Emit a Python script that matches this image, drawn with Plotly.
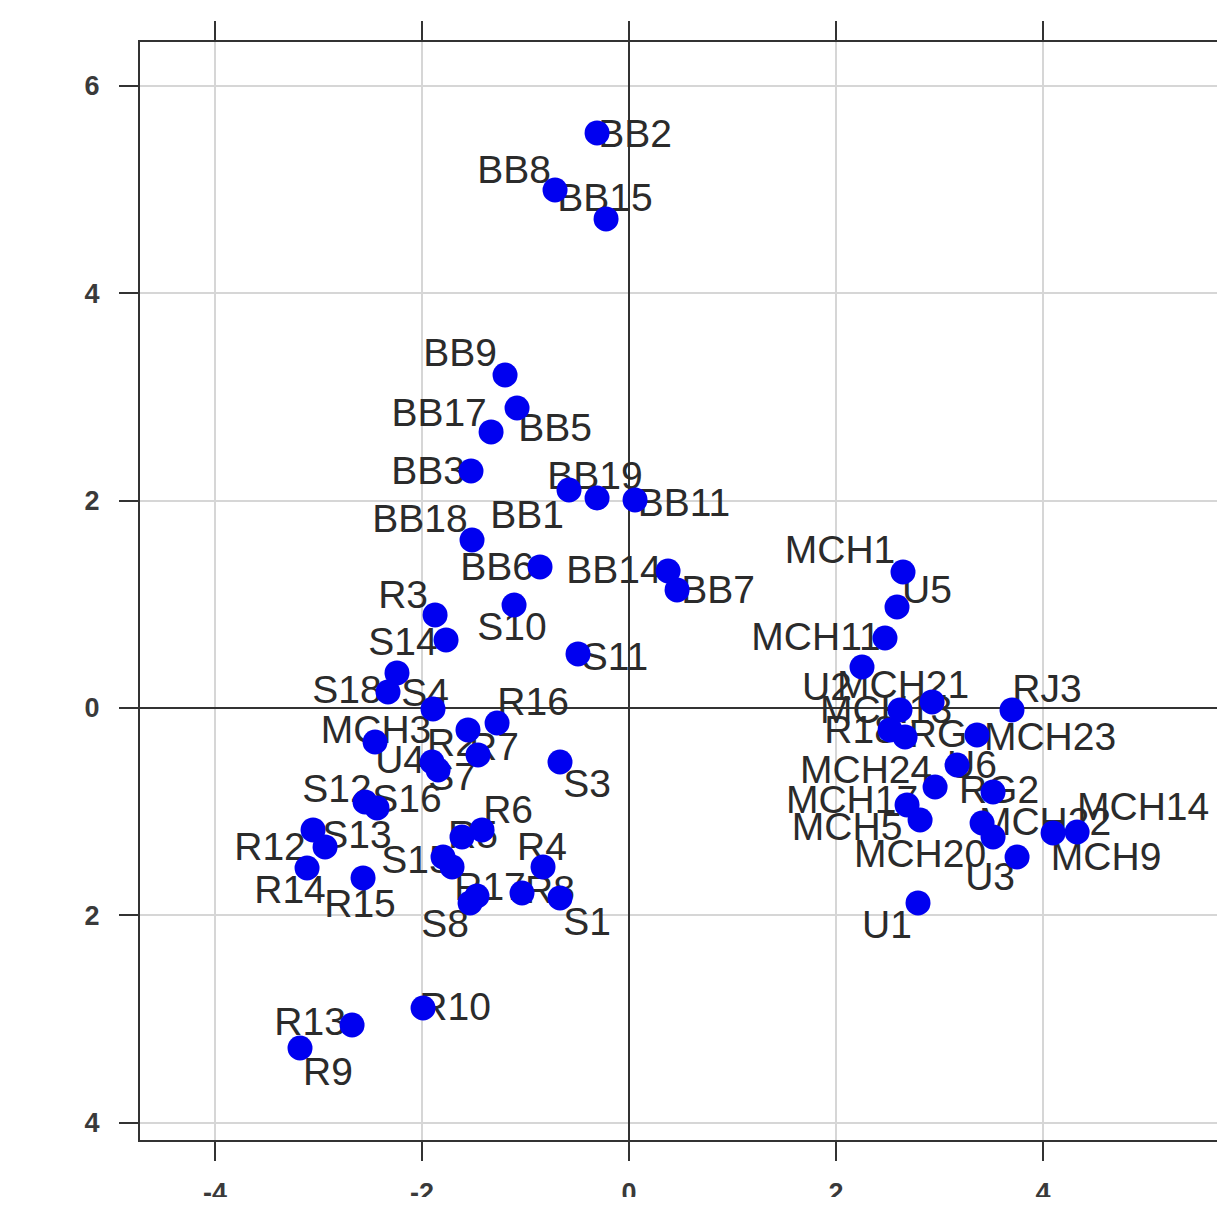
import plotly.graph_objects as go

# ---- data ----
labels = ["BB2", "BB8", "BB15", "BB9", "BB5", "BB17", "BB3", "BB1", "BB19", "BB11",
          "BB18", "BB6", "BB14", "BB7", "R3", "S10", "S14", "S11", "", "S18",
          "S4", "R16", "R2", "R7", "MCH3", "U4", "S7", "S3", "S12", "S16",
          "R6", "R5", "S13", "R12", "R4", "S15", "", "R17", "S8", "R8",
          "S1", "R14", "R15", "R10", "R13", "R9", "MCH1", "U5", "MCH11", "U2",
          "MCH21", "RJ3", "MCH13", "R18", "RG", "MCH23", "U6", "MCH24", "RG2", "MCH17",
          "MCH5", "MCH22", "MCH20", "U3", "MCH9", "MCH14", "U1"]

dim1 = [-0.309, -0.715, -0.222, -1.198, -1.082, -1.333, -1.527, -0.580, -0.309, 0.058,
        -1.517, -0.860, 0.377, 0.464, -1.874, -1.111, -1.768, -0.493, -2.242, -2.329,
        -1.894, -1.275, -1.556, -1.459, -2.454, -1.903, -1.845, -0.667, -2.551, -2.435,
        -1.420, -1.614, -2.937, -3.053, -0.831, -1.797, -1.710, -1.469, -1.536, -1.034,
        -0.667, -3.111, -2.570, -1.990, -2.676, -3.179, 2.647, 2.589, 2.473, 2.251,
        2.928, 3.700, 2.618, 2.522, 2.667, 3.362, 3.169, 2.957, 3.517, 2.686,
        2.812, 3.411, 3.517, 3.749, 4.097, 4.329, 2.792]

dim2 = [5.545, 4.995, 4.716, 3.211, 2.893, 2.662, 2.285, 2.102, 2.025, 2.006,
        1.620, 1.360, 1.321, 1.138, 0.897, 0.993, 0.656, 0.521, 0.338, 0.154,
        -0.010, -0.145, -0.212, -0.453, -0.328, -0.521, -0.598, -0.521, -0.906, -0.964,
        -1.176, -1.244, -1.340, -1.176, -1.533, -1.437, -1.533, -1.813, -1.880, -1.784,
        -1.832, -1.543, -1.639, -2.893, -3.057, -3.279, 1.311, 0.974, 0.675, 0.395,
        0.058, -0.019, -0.019, -0.212, -0.280, -0.260, -0.550, -0.762, -0.810, -0.935,
        -1.080, -1.109, -1.244, -1.437, -1.205, -1.196, -1.880]

x_ticks = [-4, -2, 0, 2, 4]
x_ticktext = ["-4", "-2", "0", "2", "4"]
y_ticks = [-4, -2, 0, 2, 4, 6]
y_ticktext = ["4", "2", "0", "2", "4", "6"]

# ---- label offsets from each point, in screen pixels (dx right, dy down) ----
label_dx = [38, -41, -1, -45, 38, -52, -43, -42, -2, 49,
            -52, -43, -54, 41, -32, -2, -43, 37, 0, -41,
            -8, 36, -16, 16, 1, -32, 14, 27, -28, 30,
            26, 11, 32, -43, -1, -27, 0, 13, -25, 28,
            27, -17, -3, 32, -42, 28, -63, 30, -69, -35,
            -29, 35, -14, -30, 33, 73, 15, -69, 6, -55,
            -73, 63, -73, -27, 53, 66, -31]
label_dy = [4, -17, -18, -19, 23, -16, 3, 28, -19, 6,
            -18, 3, 2, 3, -17, 25, 5, 6, 0, 1,
            -13, -18, 16, -5, -9, 1, 10, 25, -10, -6,
            -17, 1, -9, 20, -17, 6, 0, -6, 24, 0,
            27, 25, 29, 2, 0, 27, -19, -14, 2, 23,
            -14, -18, 3, 3, 0, 5, 3, -14, 1, -2,
            10, 2, 20, 23, 27, -22, 25]

# ---- layout geometry (page body adds an 8px margin) ----
W, H = 1217, 1189
ml, mr, mt, mb = 132, 0, 34, 57
xr = [-4.725, 5.758]
yr = [-4.166, 6.422]
pxu = (W - ml - mr) / (xr[1] - xr[0])
pyu = (H - mt - mb) / (yr[1] - yr[0])

lab_x = [x + dx / pxu for x, dx in zip(dim1, label_dx)]
lab_y = [y - dy / pyu for y, dy in zip(dim2, label_dy)]

fig = go.Figure()
fig.add_trace(go.Scatter(
    x=lab_x, y=lab_y, mode="text", text=labels, textposition="middle center",
    textfont=dict(family="Liberation Sans, Arial, sans-serif", size=39, color="#2b2b2b"),
    hoverinfo="skip", showlegend=False, cliponaxis=False))
fig.add_trace(go.Scatter(
    x=dim1, y=dim2, mode="markers",
    marker=dict(size=25, color="#0000f0", line=dict(width=0)),
    hovertext=labels, showlegend=False))

axis_common = dict(
    automargin=False,
    showgrid=True, gridcolor="#d6d6d6", gridwidth=1.5,
    zeroline=True, zerolinecolor="#333333", zerolinewidth=1.8,
    showline=True, linecolor="#333333", linewidth=2.2,
    ticks="outside", ticklen=19, tickwidth=2, tickcolor="#333333",
    tickfont=dict(family="Liberation Sans, Arial, sans-serif", size=27,
                  color="#3a3a3a", weight="bold"),
)
fig.update_xaxes(range=xr, tickvals=x_ticks, ticktext=x_ticktext,
                 mirror="ticks", ticklabelstandoff=8, **axis_common)
fig.update_yaxes(range=yr, tickvals=y_ticks, ticktext=y_ticktext,
                 mirror=False, ticklabelstandoff=14, **axis_common)

fig.update_layout(
    width=W, height=H,
    margin=dict(l=ml, r=mr, t=mt, b=mb),
    paper_bgcolor="white", plot_bgcolor="white",
    showlegend=False,
)

fig.write_html("out.html")
